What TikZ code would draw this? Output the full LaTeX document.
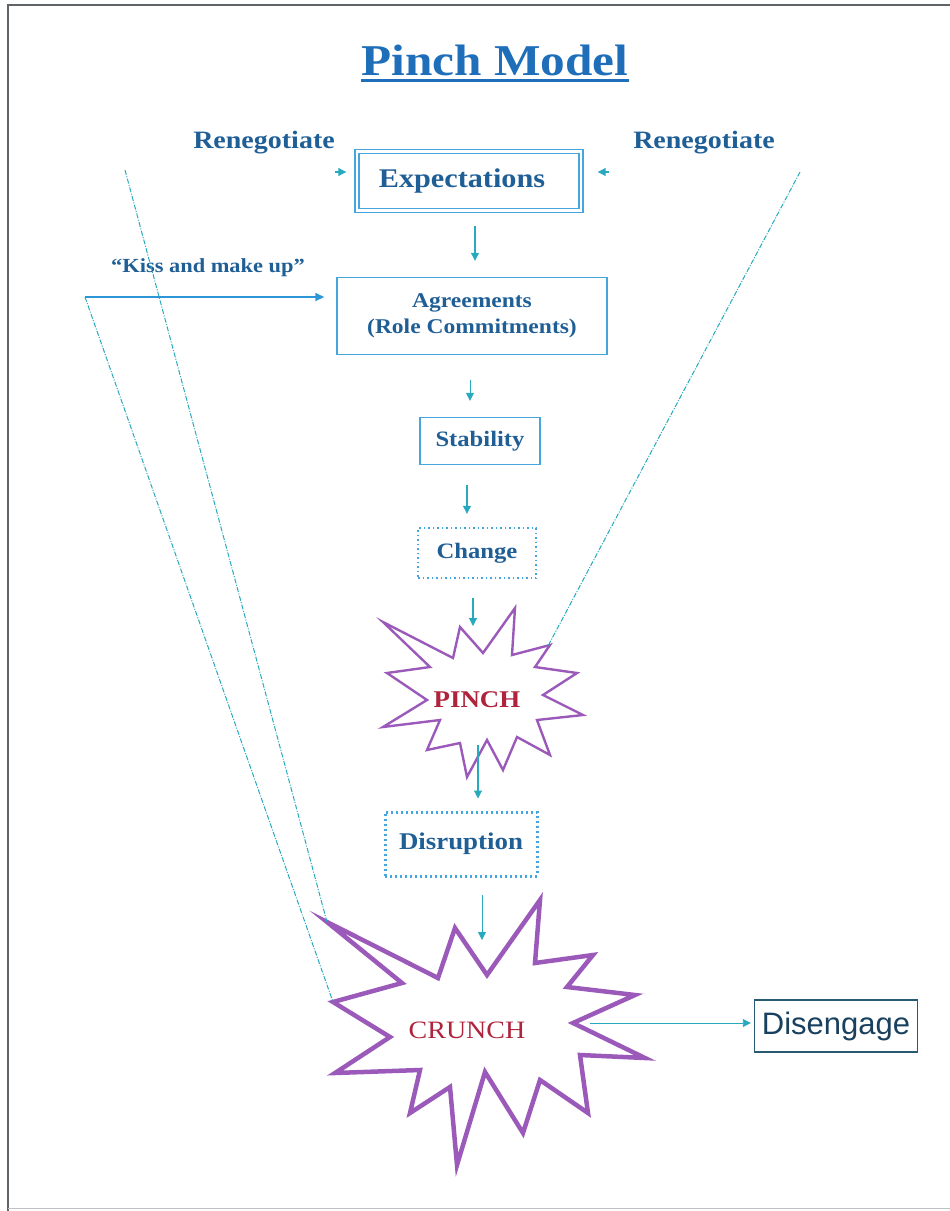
\documentclass[tikz,border=0pt]{standalone}
\usepackage{fontspec}
\setmainfont{Liberation Serif}
\newfontfamily\tnr[FakeStretch=1.12]{Liberation Serif}
\newfontfamily\sansf{Liberation Sans}
\usetikzlibrary{arrows.meta,calc}
\definecolor{boxblue}{RGB}{70,165,220}
\definecolor{txtblue}{RGB}{32,95,150}
\definecolor{titleblue}{RGB}{30,110,185}
\definecolor{conn}{RGB}{40,170,190}
\definecolor{kissblue}{RGB}{45,150,215}
\definecolor{starpurple}{RGB}{155,90,185}
\definecolor{starred}{RGB}{175,35,60}
\definecolor{disborder}{RGB}{40,90,115}
\definecolor{distext}{RGB}{25,65,95}
\definecolor{framegray}{RGB}{95,100,105}
\tikzset{
  arr/.style={draw=conn, line width=1.1pt, -{Triangle[length=8pt,width=8pt]}},
  longdash/.style={draw=conn, line width=1pt, dash pattern=on 5pt off 1.5pt on 1pt off 1.5pt},
  plainbox/.style={draw=boxblue, line width=1.4pt, inner sep=0pt, text=txtblue, align=center},
  dotbox/.style={draw=boxblue, line width=2.4pt, dash pattern=on 1.5pt off 3pt, inner sep=0pt, text=txtblue, align=center},
  pinchstar/.style={draw=starpurple, line width=2.4pt, line join=miter},
  crunchstar/.style={draw=starpurple, line width=4.5pt, line join=miter},
  startext/.style={text=starred},
  lbl/.style={text=txtblue, inner sep=0pt}
}
\begin{document}
\begin{tikzpicture}[x=1pt,y=-1pt]
\useasboundingbox (0,0) rectangle (950,1211);
% frame
\draw[framegray, line width=1.6pt] (8,1211) -- (8,5) -- (950,5);
\draw[framegray!40, line width=1pt] (8,1208) -- (950,1208);

% title
\node[text=titleblue, inner sep=0pt, font=\tnr\bfseries\fontsize{44}{48}\selectfont] (title) at (495,60) {Pinch Model};
\draw[titleblue, line width=2.8pt] ([yshift=-5pt]title.south west) -- ([yshift=-5pt]title.south east);

% renegotiate labels
\node[lbl, font=\tnr\bfseries\fontsize{25}{28}\selectfont] (renl) at (264,143) {Renegotiate};
\node[lbl, font=\tnr\bfseries\fontsize{25}{28}\selectfont] (renr) at (704,143) {Renegotiate};

% boxes
\node[plainbox, double=white, double distance=2.5pt, minimum width=224pt, minimum height=59pt,
      font=\tnr\bfseries\fontsize{27}{30}\selectfont] (exp) at (469,181) {Expectations\hspace*{14pt}};
\node[plainbox, minimum width=270pt, minimum height=77pt,
      font=\tnr\bfseries\fontsize{21}{26}\selectfont] (agr) at (472,316) {Agreements\\(Role Commitments)};
\node[plainbox, minimum width=120pt, minimum height=47pt,
      font=\tnr\bfseries\fontsize{22}{24}\selectfont] (stab) at (480,441) {Stability};
\node[dotbox, minimum width=118pt, minimum height=50pt,
      font=\tnr\bfseries\fontsize{22}{24}\selectfont] (chg) at (477,553) {Change};
\node[dotbox, line width=3pt, dash pattern=on 2pt off 3pt, minimum width=152pt, minimum height=64pt,
      font=\tnr\bfseries\fontsize{24}{26}\selectfont] (dis) at (461,844) {Disruption};
\node[draw=disborder, line width=1.4pt, minimum width=163pt, minimum height=52pt, inner sep=0pt,
      text=distext, font=\sansf\fontsize{31}{33}\selectfont] (dise) at (836,1026) {Disengage};

% kiss label
\node[lbl, font=\tnr\bfseries\fontsize{20}{24}\selectfont] (kiss) at (208,268) {“Kiss and make up”};

% PINCH star
\draw[pinchstar] (383,622) -- (453,658) -- (460,627) -- (483,653) -- (515,608) -- (512,655) -- (550,645)
  -- (535,667) -- (577,673) -- (543,695) -- (583,715) -- (537,720) -- (550,755) -- (517,737)
  -- (503,770) -- (487,740) -- (467,777) -- (460,743) -- (427,750) -- (440,720) -- (383,727)
  -- (427,700) -- (387,673) -- (430,667) -- cycle;
\node[startext, font=\tnr\bfseries\fontsize{24}{26}\selectfont] (pinch) at (477,700) {PINCH};
\coordinate (pinchNE) at (548,646);

% CRUNCH star
\draw[crunchstar] (327,922) -- (438,978) -- (455,928) -- (487,975) -- (540,900) -- (535,963) -- (593,955)
  -- (567,987) -- (635,995) -- (573,1023) -- (645,1058) -- (580,1055) -- (588,1113) -- (540,1080)
  -- (523,1133) -- (485,1072) -- (457,1165) -- (450,1087) -- (410,1113) -- (420,1070) -- (335,1073)
  -- (390,1037) -- (333,1002) -- (402,983) -- cycle;
\node[startext, font=\tnr\fontsize{25}{27}\selectfont] (crunch) at (467,1030) {CRUNCH};
\coordinate (crunchTL) at (327,922);
\coordinate (crunchL) at (333,1002);

% free ends of long lines
\coordinate (topL) at (125,170);
\coordinate (kissC) at (85,297);
\coordinate (topR) at (800,172);

% long connectors
\draw[longdash] (topL) -- (crunchTL);
\draw[longdash] (kissC) -- (crunchL);
\draw[longdash] (topR) -- (pinchNE);
\draw[draw=kissblue, line width=1.5pt, -{Triangle[length=9pt,width=8pt]}, shorten >=12pt] (kissC) -- (kissC -| agr.west);

% renegotiate arrowheads
\coordinate (rl) at (335,172);
\coordinate (rr) at (609,172);
\draw[arr, shorten >=10pt] (rl) -- (rl -| exp.west);
\draw[arr, shorten >=16pt] (rr) -- (rr -| exp.east);

% vertical flow arrows
\coordinate (a1) at (475,0);
\draw[arr, shorten <=15pt, shorten >=16pt] (exp.south -| a1) -- (agr.north -| a1);
\coordinate (a2) at (470,0);
\draw[arr, line width=0.8pt, shorten <=25pt, shorten >=16pt] (agr.south -| a2) -- (stab.north -| a2);
\coordinate (a3) at (467,0);
\draw[arr, shorten <=20pt, shorten >=13pt] (stab.south -| a3) -- (chg.north -| a3);
\coordinate (pinchIn) at (473,626);
\draw[arr, shorten <=19pt] (chg.south -| pinchIn) -- (pinchIn);
\coordinate (pinchOut) at (478,745);
\draw[arr, shorten >=12pt] (pinchOut) -- (pinchOut |- dis.north);
\coordinate (crunchIn) at (482,940);
\draw[arr, line width=0.8pt, shorten <=17pt] (dis.south -| crunchIn) -- (crunchIn);
\coordinate (crunchOut) at (590,1023);
\draw[arr, line width=0.9pt, shorten >=3pt] (crunchOut) -- (crunchOut -| dise.west);
\end{tikzpicture}
\end{document}
